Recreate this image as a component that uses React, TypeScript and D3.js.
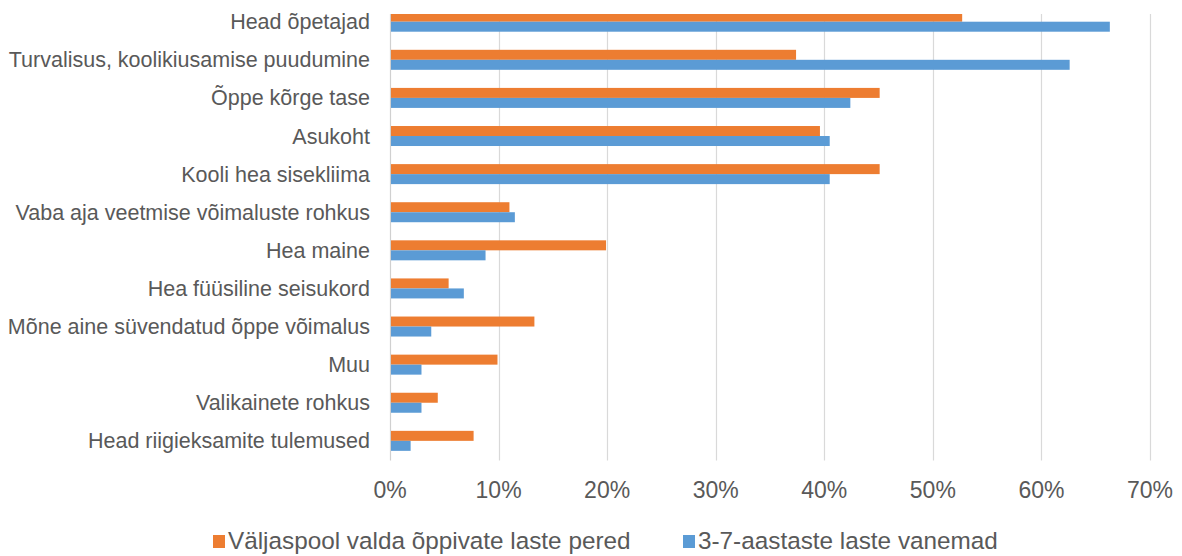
import React from "react";
import * as d3 from "d3";

const categories = [
  "Head õpetajad",
  "Turvalisus, koolikiusamise puudumine",
  "Õppe kõrge tase",
  "Asukoht",
  "Kooli hea sisekliima",
  "Vaba aja veetmise võimaluste rohkus",
  "Hea maine",
  "Hea füüsiline seisukord",
  "Mõne aine süvendatud õppe võimalus",
  "Muu",
  "Valikainete rohkus",
  "Head riigieksamite tulemused",
];

const seriesNames = [
  "Väljaspool valda õppivate laste pered",
  "3-7-aastaste laste vanemad",
];

const outsideFamilies = [0.527, 0.374, 0.451, 0.396, 0.451, 0.110, 0.199, 0.054, 0.133, 0.099, 0.044, 0.077];
const parents37 = [0.663, 0.626, 0.424, 0.405, 0.405, 0.115, 0.088, 0.068, 0.038, 0.029, 0.029, 0.019];

const xTicks = [0, 0.1, 0.2, 0.3, 0.4, 0.5, 0.6, 0.7];

const colors = ["#ED7D31", "#5B9BD5"];

export default function App() {
  const W = 1182;
  const H = 556;
  const x = d3.scaleLinear().domain([0, 0.7]).range([390, 1150]);
  const y = d3.scalePoint<string>().domain(categories).range([2.65, 459.9]).padding(0.5);
  const sub = d3.scaleBand<string>().domain(["a", "b"]).range([-10, 10]);
  const fmt = d3.format(".0%");
  const font = "'Liberation Sans', Arial, sans-serif";
  const textColor = "#595959";
  const plotTop = 14;
  const plotBottom = 460.5;

  const series = [outsideFamilies, parents37];

  return (
    <svg width={W} height={H} style={{ position: "absolute", left: 0, top: 0, background: "#fff" }}>
      <defs>
        <clipPath id="plotClip">
          <rect x={380} y={plotTop} width={800} height={plotBottom - plotTop} />
        </clipPath>
      </defs>
      {xTicks.map((t) => (
        <line
          key={"g" + t}
          x1={Math.round(x(t)) + 0.5}
          x2={Math.round(x(t)) + 0.5}
          y1={plotTop}
          y2={plotBottom}
          stroke={t === 0 ? "#D0D0D0" : "#D9D9D9"}
          strokeWidth={1.2}
        />
      ))}
      <g clipPath="url(#plotClip)">
        {categories.map((c, i) =>
          series.map((s, k) => (
            <rect
              key={c + k}
              x={x(0) + 1}
              y={(y(c) as number) + (sub(k === 0 ? "a" : "b") as number)}
              width={x(s[i]) - x(0) - 1}
              height={sub.bandwidth()}
              fill={colors[k]}
            />
          ))
        )}
      </g>
      {categories.map((c) => (
        <text
          key={"l" + c}
          x={370}
          y={(y(c) as number) + 7.5}
          textAnchor="end"
          fontFamily={font}
          fontSize={21.5}
          fill={textColor}
        >
          {c}
        </text>
      ))}
      {xTicks.map((t) => (
        <text
          key={"t" + t}
          x={x(t)}
          y={498}
          textAnchor="middle"
          fontFamily={font}
          fontSize={23}
          fill={textColor}
        >
          {fmt(t)}
        </text>
      ))}
      <g>
        <rect x={213} y={535} width={12} height={13} fill={colors[0]} />
        <text x={228} y={549} fontFamily={font} fontSize={24.3} fill={textColor}>
          {seriesNames[0]}
        </text>
        <rect x={683} y={535} width={12} height={13} fill={colors[1]} />
        <text x={698} y={549} fontFamily={font} fontSize={24.3} fill={textColor}>
          {seriesNames[1]}
        </text>
      </g>
    </svg>
  );
}
